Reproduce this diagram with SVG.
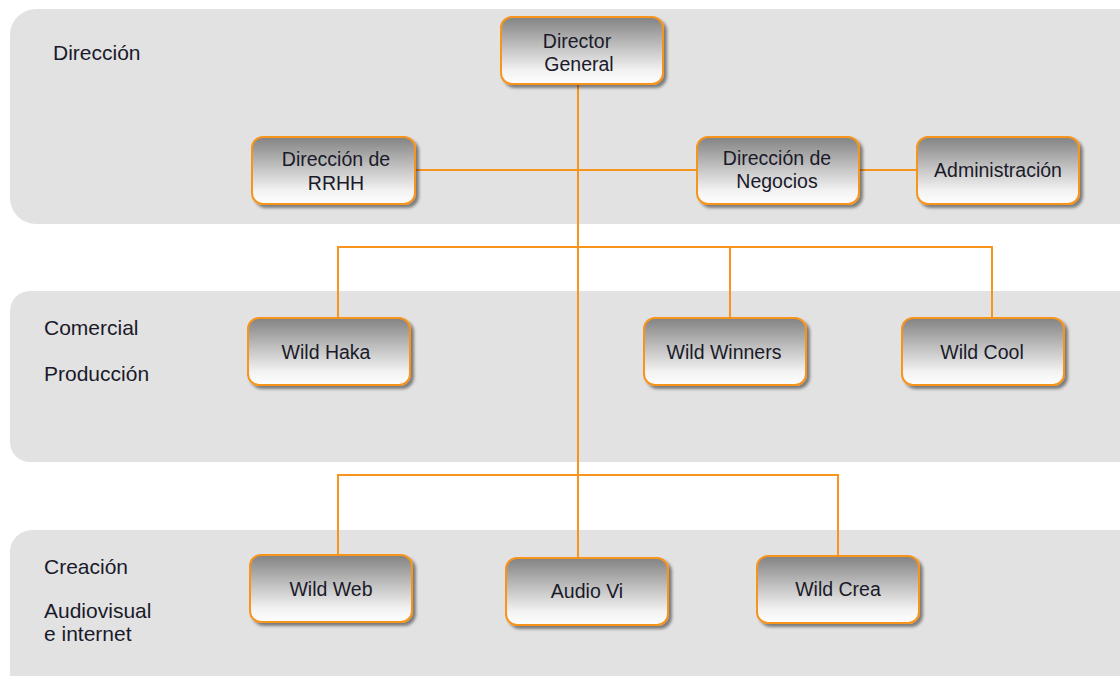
<svg xmlns="http://www.w3.org/2000/svg" width="1120" height="676" viewBox="0 0 1120 676">
  <defs>
    <linearGradient id="boxFill" x1="0" y1="0" x2="0" y2="1">
      <stop offset="0" stop-color="#828282"/>
      <stop offset="0.45" stop-color="#c2c2c2"/>
      <stop offset="0.8" stop-color="#f2f2f2"/>
      <stop offset="1" stop-color="#ffffff"/>
    </linearGradient>
    <filter id="shadow" x="-10%" y="-10%" width="125%" height="130%">
      <feGaussianBlur in="SourceAlpha" stdDeviation="1.6"/>
      <feOffset dx="3" dy="3" result="b"/>
      <feFlood flood-color="#000" flood-opacity="0.45"/>
      <feComposite in2="b" operator="in" result="s"/>
      <feMerge><feMergeNode in="s"/><feMergeNode in="SourceGraphic"/></feMerge>
    </filter>
  </defs>
  <style>
    .band { fill: #e2e2e2; }
    .box { fill: url(#boxFill); stroke: #f7941d; stroke-width: 2; filter: url(#shadow); }
    .lbl { font-family: "Liberation Sans", Arial, sans-serif; font-size: 19.5px; fill: #1a1a2a; text-anchor: middle; }
    .side { font-family: "Liberation Sans", Arial, sans-serif; font-size: 21px; fill: #1a1a2a; }
    .wire { fill: none; stroke: #f7941d; stroke-width: 2; }
  </style>

  <rect width="1120" height="676" fill="#ffffff"/>

  <!-- horizontal bands with their row captions -->
  <g id="bands">
    <rect class="band" x="10" y="9" width="1140" height="215" rx="26"/>
    <rect class="band" x="10" y="291" width="1140" height="171" rx="20"/>
    <rect class="band" x="10" y="530" width="1140" height="180" rx="22"/>
    <text class="side" x="53" y="60">Dirección</text>
    <text class="side" x="44" y="335">Comercial</text>
    <text class="side" x="44" y="381">Producción</text>
    <text class="side" x="44" y="574">Creación</text>
    <text class="side" x="44" y="618">Audiovisual</text>
    <text class="side" x="44" y="641">e internet</text>
  </g>

  <!-- connectors -->
  <g id="connectors">
    <line class="wire" x1="578" y1="84" x2="578" y2="558"/>
    <line class="wire" x1="416" y1="170" x2="697" y2="170"/>
    <line class="wire" x1="859" y1="170" x2="917" y2="170"/>
    <polyline class="wire" points="338,318 338,247 992,247 992,318"/>
    <line class="wire" x1="730" y1="247" x2="730" y2="318"/>
    <polyline class="wire" points="338,555 338,475 838,475 838,556"/>
  </g>

  <g id="director-general">
    <rect class="box" x="501" y="17" width="162" height="67" rx="11"/>
    <text class="lbl" x="577" y="48">Director</text>
    <text class="lbl" x="579" y="71">General</text>
  </g>
  <g id="direccion-rrhh">
    <rect class="box" x="252" y="137" width="163" height="67" rx="11"/>
    <text class="lbl" x="336" y="166">Dirección de</text>
    <text class="lbl" x="336" y="190">RRHH</text>
  </g>
  <g id="direccion-negocios">
    <rect class="box" x="697" y="137" width="162" height="67" rx="11"/>
    <text class="lbl" x="777" y="165">Dirección de</text>
    <text class="lbl" x="777" y="188">Negocios</text>
  </g>
  <g id="administracion">
    <rect class="box" x="917" y="137" width="162" height="67" rx="11"/>
    <text class="lbl" x="998" y="177">Administración</text>
  </g>
  <g id="wild-haka">
    <rect class="box" x="248" y="318" width="162" height="67" rx="11"/>
    <text class="lbl" x="326" y="359">Wild Haka</text>
  </g>
  <g id="wild-winners">
    <rect class="box" x="644" y="318" width="162" height="67" rx="11"/>
    <text class="lbl" x="724" y="359">Wild Winners</text>
  </g>
  <g id="wild-cool">
    <rect class="box" x="902" y="318" width="162" height="67" rx="11"/>
    <text class="lbl" x="982" y="359">Wild Cool</text>
  </g>
  <g id="wild-web">
    <rect class="box" x="250" y="555" width="162" height="67" rx="11"/>
    <text class="lbl" x="331" y="596">Wild Web</text>
  </g>
  <g id="audio-vi">
    <rect class="box" x="506" y="558" width="162" height="67" rx="11"/>
    <text class="lbl" x="587" y="598">Audio Vi</text>
  </g>
  <g id="wild-crea">
    <rect class="box" x="757" y="556" width="162" height="67" rx="11"/>
    <text class="lbl" x="838" y="596">Wild Crea</text>
  </g>
</svg>
